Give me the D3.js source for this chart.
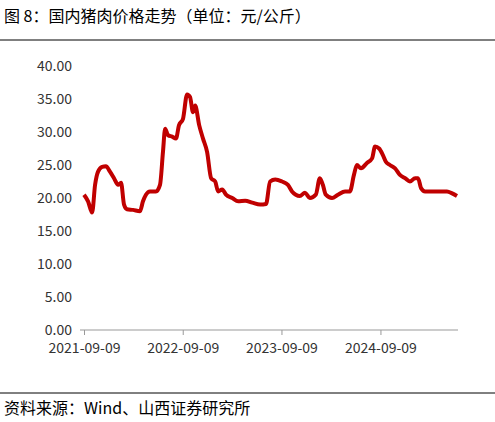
<!DOCTYPE html>
<html><head><meta charset="utf-8">
<script src="https://cdn.jsdelivr.net/npm/d3@7"></script>
<style>body{margin:0;background:#fff;font-family:"Noto Sans CJK SC","Noto Sans",sans-serif;}</style>
</head><body><div id="chart"></div>
<script>
const dates = ["2021-09-09","2021-09-24","2021-10-09","2021-10-20","2021-10-31","2021-11-15","2021-11-29","2021-12-14","2021-12-29","2022-01-13","2022-01-24","2022-02-04","2022-02-15","2022-03-09","2022-04-04","2022-04-15","2022-04-26","2022-05-11","2022-06-02","2022-06-17","2022-06-28","2022-07-06","2022-07-17","2022-08-01","2022-08-15","2022-08-26","2022-09-10","2022-09-25","2022-10-06","2022-10-17","2022-10-25","2022-11-09","2022-11-23","2022-12-08","2022-12-23","2023-01-07","2023-01-18","2023-02-02","2023-02-16","2023-03-11","2023-04-02","2023-04-28","2023-05-24","2023-06-22","2023-07-14","2023-07-29","2023-08-17","2023-09-11","2023-10-03","2023-10-18","2023-11-01","2023-11-16","2023-12-05","2023-12-23","2024-01-14","2024-01-29","2024-02-09","2024-02-20","2024-03-14","2024-04-05","2024-05-01","2024-05-19","2024-06-03","2024-06-14","2024-06-29","2024-07-21","2024-08-09","2024-08-20","2024-09-04","2024-09-18","2024-09-29","2024-10-14","2024-11-02","2024-11-20","2024-12-09","2024-12-27","2025-01-15","2025-01-26","2025-02-06","2025-02-21","2025-03-11","2025-04-17","2025-05-13","2025-06-01","2025-06-19"];
const prices = [20.5,19.5,17.8,22,24,24.7,24.8,24,23,22,22.3,19,18.3,18.2,18,19.5,20.5,21,21,22,27,30.5,29.5,29.3,29,31,32,35.7,35.3,33,34,31,29,27,23,22.5,21,21.3,20.5,20,19.5,19.6,19.3,19,19.1,22.5,22.8,22.5,22,21,20.5,20.3,20.8,20,20.5,23,22,20.5,20,20.5,21,21,23.5,25,24.5,25.3,26,27.8,27.5,26.5,25.5,25,24.5,23.5,23,22.5,23,23,21.5,21,21,21,21,20.7,20.3];
const yTicks = [0,5,10,15,20,25,30,35,40];
const xTickLabels = ["2021-09-09","2022-09-09","2023-09-09","2024-09-09"];

const W = 495, H = 422;
const svg = d3.select("#chart").append("svg").attr("width", W).attr("height", H);
const parse = d3.timeParse("%Y-%m-%d");
const data = dates.map((d, i) => ({ date: parse(d), v: prices[i] }));

svg.append("text").attr("x", 4).attr("y", 22).attr("font-size", 16).attr("fill", "#000")
  .text("图 8：国内猪肉价格走势（单位：元/公斤）");
svg.append("line").attr("x1", 0).attr("x2", W).attr("y1", 40).attr("y2", 40).attr("stroke", "#000").attr("stroke-width", 1);

const x = d3.scaleTime().domain([parse("2021-09-09"), parse("2025-06-19")]).range([84, 457]);
const y = d3.scaleLinear().domain([0, 40]).range([330, 66]);

// y labels
svg.append("g").selectAll("text").data(yTicks).enter().append("text")
  .attr("x", 72).attr("y", d => y(d) + 5).attr("text-anchor", "end")
  .attr("font-size", 14).attr("fill", "#333").text(d => d.toFixed(2));

// x axis
const xa = svg.append("g").attr("transform", "translate(0,330)")
  .call(d3.axisBottom(x).tickValues(xTickLabels.map(parse)).tickSize(5).tickFormat(d3.timeFormat("%Y-%m-%d")));
xa.select(".domain").attr("stroke", "#999").attr("d", "M80,0H458");
xa.selectAll(".tick line").attr("stroke", "#999");
xa.selectAll("text").attr("font-size", 14).attr("fill", "#333").attr("dy", "1.1em")
  .attr("font-family", "'Noto Sans CJK SC','Noto Sans',sans-serif");

svg.append("path").datum(data)
  .attr("d", d3.line().x(d => x(d.date)).y(d => y(d.v)).curve(d3.curveMonotoneX))
  .attr("fill", "none").attr("stroke", "#c00000").attr("stroke-width", 4).attr("stroke-linejoin", "round");

svg.append("line").attr("x1", 0).attr("x2", W).attr("y1", 393).attr("y2", 393).attr("stroke", "#000").attr("stroke-width", 1);
svg.append("text").attr("x", 4).attr("y", 414).attr("font-size", 16).attr("fill", "#000")
  .text("资料来源：Wind、山西证券研究所");
</script></body></html>
